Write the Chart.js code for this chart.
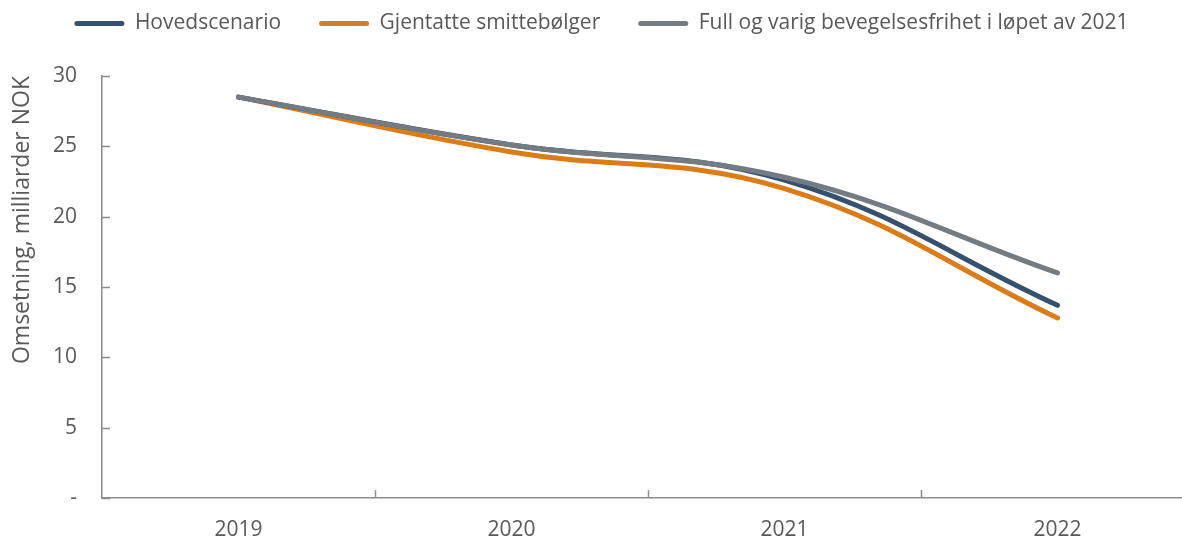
<!DOCTYPE html>
<html>
<head>
<meta charset="utf-8">
<script src="https://cdn.jsdelivr.net/npm/chart.js@4.4.1/dist/chart.umd.min.js"></script>
<style>
  html, body { margin: 0; padding: 0; background: #fff; overflow: hidden; width: 1182px; height: 539px; }
  #wrap { width: 1194px; height: 539px; position: relative; }
</style>
</head>
<body>
<div id="wrap"><canvas id="chart"></canvas></div>
<script>
const years = ['2019', '2020', '2021', '2022'];
const hovedscenario = [28.5, 25.1, 22.6, 13.7];
const gjentatte = [28.5, 24.6, 22.0, 12.8];
const fullFrihet = [28.5, 25.1, 22.8, 16.0];

const axisColor = '#8C8C8C';
const textColor = '#595959';
const fontFamily = 'Open Sans';

// Excel-style inward tick marks
const innerTicks = {
    id: 'innerTicks',
    afterDraw(chart) {
        const ctx = chart.ctx;
        const area = chart.chartArea;
        const x = chart.scales.x;
        const y = chart.scales.y;
        ctx.save();
        ctx.strokeStyle = axisColor;
        ctx.lineWidth = 1.5;
        ctx.beginPath();
        y.ticks.forEach((t, i) => {
            const py = Math.round(y.getPixelForTick(i)) + 0.5;
            ctx.moveTo(area.left, py);
            ctx.lineTo(area.left + 8, py);
        });
        for (let i = 1; i < years.length; i++) {
            const px = Math.round((x.getPixelForValue(i - 1) + x.getPixelForValue(i)) / 2) + 0.5;
            ctx.moveTo(px, area.bottom);
            ctx.lineTo(px, area.bottom - 8);
        }
        ctx.stroke();
        ctx.restore();
    }
};

const ctx = document.getElementById('chart').getContext('2d');
new Chart(ctx, {
    type: 'line',
    data: {
        labels: years,
        datasets: [
            { label: 'Hovedscenario', data: hovedscenario, borderColor: '#36506F', backgroundColor: '#36506F', xAxisID: 'x', yAxisID: 'y', order: 1 },
            { label: 'Gjentatte smittebølger', data: gjentatte, borderColor: '#DB7C16', backgroundColor: '#DB7C16', xAxisID: 'x', yAxisID: 'y', order: 2 },
            { label: 'Full og varig bevegelsesfrihet i løpet av 2021', data: fullFrihet, borderColor: '#737B83', backgroundColor: '#737B83', xAxisID: 'x', yAxisID: 'y', order: 0 }
        ]
    },
    options: {
        responsive: true,
        maintainAspectRatio: false,
        animation: false,
        layout: { padding: { left: 9, right: 0, top: -25, bottom: 0 } },
        elements: {
            line: { borderWidth: 5, tension: 0.4, borderCapStyle: 'round', borderJoinStyle: 'round' },
            point: { radius: 0, hoverRadius: 0 }
        },
        plugins: {
            tooltip: { enabled: false },
            legend: {
                position: 'top',
                align: 'center',
                labels: {
                    sort: (a, b) => a.datasetIndex - b.datasetIndex,
                    boxWidth: 50,
                    boxHeight: 5,
                    color: textColor,
                    padding: 38,
                    font: { family: fontFamily, size: 21 },
                    generateLabels(chart) {
                        return chart.data.datasets.map((ds, i) => ({
                            text: ds.label,
                            fillStyle: ds.borderColor,
                            strokeStyle: ds.borderColor,
                            lineWidth: 0,
                            borderRadius: 2.5,
                            fontColor: textColor,
                            datasetIndex: i
                        }));
                    }
                }
            }
        },
        scales: {
            x: {
                offset: true,
                grid: { display: false, offset: true, drawTicks: false },
                border: { color: axisColor, width: 1.5 },
                ticks: { color: textColor, font: { family: fontFamily, size: 21 }, padding: 19 },
                afterFit(scale) { scale.height = 41; }
            },
            y: {
                min: 0,
                max: 30,
                grid: { display: false, drawTicks: false },
                border: { color: axisColor, width: 1.5 },
                ticks: {
                    stepSize: 5,
                    color: textColor,
                    padding: 25,
                    font: { family: fontFamily, size: 21 },
                    callback: v => v === 0 ? '-' : v
                },
                title: {
                    display: true,
                    text: 'Omsetning, milliarder NOK',
                    align: 'end',
                    color: textColor,
                    font: { family: fontFamily, size: 23 },
                    padding: { top: 0, bottom: 10 }
                },
                afterFit(scale) { scale.width = 93; }
            },
            // empty top box that only reserves room under the legend
            spacer: {
                type: 'category',
                position: 'top',
                grid: { display: false, drawTicks: false },
                border: { display: false },
                ticks: { display: false },
                afterFit(scale) { scale.height = 32; }
            }
        }
    },
    plugins: [innerTicks]
});
</script>
</body>
</html>
